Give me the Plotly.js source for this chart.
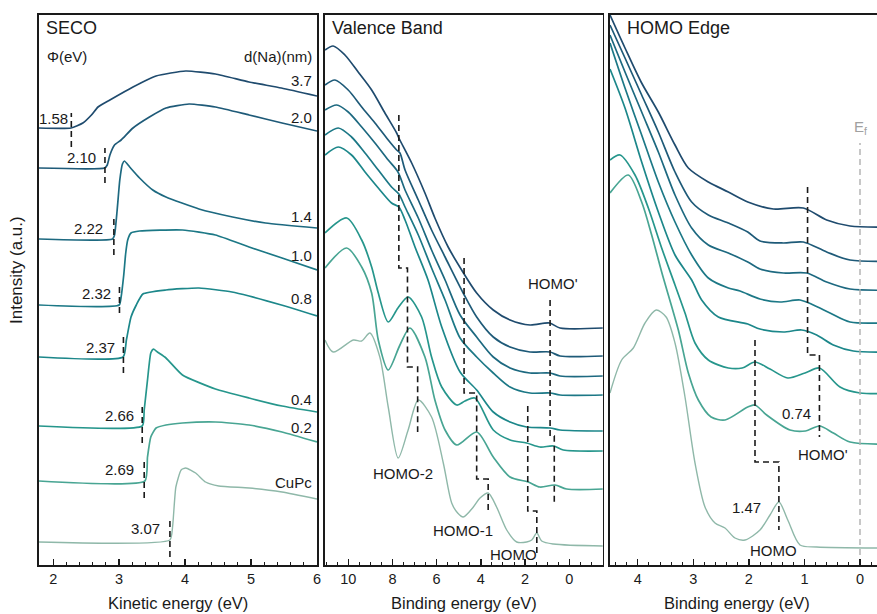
<!DOCTYPE html>
<html><head><meta charset="utf-8">
<script src="https://cdn.plot.ly/plotly-3.0.1.min.js"></script>
<style>html,body{margin:0;padding:0;overflow:hidden;background:#fff}#chart{width:900px;height:614px}</style>
</head><body><div id="chart"></div>
<script>
// ---------- series labels ----------
const thickness = ['3.7','2.0','1.4','1.0','0.8','0.4','0.2','CuPc'];
const colors = ['#1f4b6e','#1e5a78','#1d6980','#1c7886','#1c878a','#26968c','#48a593','#8fb8a9'];

// ---------- SECO panel (kinetic energy, intensity a.u.) ----------
const secoKE = [
 [1.785,2.27,2.45,2.58,2.68,2.86,3.21,3.56,4.01,4.46,4.97,5.46,6.0],
 [1.785,2.78,2.82,2.86,2.93,3.03,3.21,3.46,3.71,4.06,4.46,4.97,5.47,6.0],
 [1.785,2.90,2.93,2.97,3.01,3.05,3.08,3.16,3.31,3.51,3.71,4.21,4.72,5.22,6.0],
 [1.785,3.0,3.03,3.07,3.10,3.13,3.18,3.31,3.96,4.46,4.97,5.47,6.0],
 [1.785,3.06,3.11,3.18,3.26,3.36,3.71,4.21,4.71,4.97,5.46,6.0],
 [1.785,3.35,3.38,3.43,3.48,3.52,3.58,3.71,3.96,4.46,4.97,5.47,6.0],
 [1.785,3.39,3.43,3.48,3.56,3.71,3.96,4.46,4.97,5.47,6.0],
 [1.785,3.77,3.81,3.86,3.94,4.01,4.16,4.31,4.51,4.97,5.47,6.0]
];
const secoInt = [
 [437,437,442,450,458,465,478,489,494,491,483,477,469],
 [397,397,400,410,420,425,437,448,457,461,458,450,442,434],
 [326,326,330,355,385,401,404,398,387,375,368,356,348,342,337],
 [260,260,268,290,312,325,332,334,335,330,318,307,295],
 [208,208,225,248,260,271,275,277,273,269,260,249],
 [139,139,155,185,212,216,213,207,190,176,167,159,153],
 [84,84,108,128,137,140,142,143,140,133,123],
 [23,25,38,78,95,97,92,83,79,77,73,66]
];
const wfLabels = ['1.58','2.10','2.22','2.32','2.37','2.66','2.69','3.07'];
const wfMarkKE = [2.275,2.785,2.92,3.005,3.065,3.35,3.38,3.77];
const wfMarkLo = [418,382,310,252,192,122,67,8];
const wfMarkHi = [452,417,347,280,228,160,105,47];
const wfLabelKE = [2.25,2.68,2.78,2.90,2.96,3.25,3.26,3.65];
const wfLabelInt = [447,408,337,272,218,150,96,37];
const thickLabelInt = [485,448,349,310,267,166,138,83];

// ---------- Valence band panel (binding energy, intensity a.u.) ----------
const vbBE = [
 [11.05,10.68,10.15,9.55,8.94,8.34,7.81,7.71,7.13,6.53,6.08,5.48,4.87,4.19,3.44,2.68,1.78,0.90,0.42,-1.54],
 [11.05,10.6,10.0,9.39,8.79,8.19,7.81,7.66,7.43,6.83,6.23,5.62,4.80,4.19,3.44,2.68,1.78,0.87,0.42,-1.54],
 [11.05,10.52,10.0,9.39,8.79,8.19,7.75,7.43,6.83,6.23,5.62,4.94,4.19,3.44,2.68,1.78,0.87,0.42,-1.54],
 [11.05,10.45,9.85,9.24,8.64,8.04,7.71,7.43,6.83,6.23,5.62,4.94,4.19,3.44,2.68,1.78,0.87,0.42,-1.54],
 [11.05,10.45,9.85,9.24,8.64,8.04,7.71,7.43,6.98,6.39,5.77,4.94,4.19,3.44,2.68,1.93,0.87,0.42,-1.54],
 [11.05,10.07,9.39,8.94,8.64,8.19,7.75,7.29,6.68,6.23,5.77,5.09,4.72,4.27,3.44,2.68,1.93,1.33,0.72,0.27,-1.54],
 [11.05,10.07,9.39,8.94,8.64,8.19,7.66,7.21,6.53,6.08,5.62,5.09,4.19,3.44,2.68,1.86,1.33,0.65,0.12,-1.54],
 [11.05,10.68,9.77,9.39,9.02,8.57,8.19,7.74,7.29,6.83,6.23,5.70,5.32,5.05,4.80,4.34,4.04,3.67,3.29,2.83,2.38,1.93,1.70,1.47,1.25,0.72,-1.54]
];
const vbInt = [
 [515,519,510,493,475,452,432,427,402,372,347,318,295,272,255,245,240,242,237,237],
 [480,485,475,458,442,425,415,412,395,365,335,308,272,248,228,218,213,213,209,209],
 [455,460,453,438,422,405,393,375,347,315,285,250,228,208,197,192,192,189,189],
 [430,437,428,412,395,378,371,358,330,297,265,227,208,192,178,172,172,170,170],
 [410,418,410,393,377,362,358,345,318,285,238,193,175,153,143,138,137,135,134],
 [332,347,325,298,272,243,257,268,248,208,178,160,164,167,135,125,122,118,119,115,114],
 [297,317,298,272,225,195,220,237,208,165,135,120,133,108,88,83,78,80,76,76],
 [225,213,225,224,232,208,158,107,135,165,148,102,62,52,48,58,67,72,58,35,23,23,25,32,24,21,19]
];
const vbStepHomo2BE = [7.71,7.71,7.32,7.32,6.86,6.86];
const vbStepHomo2Int = [450,297,297,198,198,133];
const vbStepHomo1BE = [4.76,4.76,4.19,4.19,3.67,3.67];
const vbStepHomo1Int = [307,172,172,86,86,52];
const vbStepHomoBE = [1.88,1.88,1.47,1.47];
const vbStepHomoInt = [159,54,54,12];
const vbStepHomoPBE = [0.87,0.87,0.68,0.68];
const vbStepHomoPInt = [265,129,129,63];

// ---------- HOMO edge panel ----------
const heBE = [
 [4.5,4.23,3.94,3.63,3.33,3.09,2.73,2.37,2.02,1.56,1.02,0.60,0.18,-0.8],
 [4.5,4.23,3.93,3.63,3.33,3.03,2.73,2.37,2.02,1.80,1.38,1.02,0.60,0.18,-0.8],
 [4.5,4.23,3.93,3.63,3.33,3.03,2.73,2.37,2.02,1.80,1.38,0.96,0.60,0.18,-0.8],
 [4.5,4.23,3.93,3.63,3.33,3.03,2.73,2.37,2.16,1.80,1.44,1.08,0.84,0.54,0.18,-0.8],
 [4.5,4.23,3.93,3.63,3.33,3.03,2.85,2.55,2.02,1.80,1.38,1.05,0.78,0.48,0.12,-0.8],
 [4.5,4.32,4.05,3.81,3.57,3.33,3.15,2.97,2.73,2.37,2.12,1.89,1.62,1.30,0.99,0.73,0.36,0.0,-0.8],
 [4.5,4.17,3.93,3.75,3.57,3.27,3.09,2.91,2.68,2.43,2.02,1.89,1.68,1.26,0.98,0.73,0.48,0.18,-0.8],
 [4.5,4.29,4.08,3.87,3.67,3.49,3.33,3.15,2.97,2.79,2.61,2.43,2.25,2.07,1.80,1.62,1.46,1.30,1.08,0.78,-0.8]
];
const heInt = [
 [550,517,483,453,420,397,383,373,363,356,357,345,339,338],
 [540,507,470,433,393,363,350,342,333,324,322,323,313,305,304],
 [530,493,453,413,370,337,320,312,303,296,292,292,283,276,275],
 [522,477,430,383,343,310,287,277,274,266,263,265,260,252,243,243],
 [496,457,403,353,310,285,265,248,241,236,233,235,230,220,214,213],
 [405,410,390,357,317,280,252,222,205,197,197,203,196,187,192,197,178,172,172],
 [372,390,363,330,293,235,192,165,148,145,158,160,150,135,134,139,132,123,121],
 [172,205,217,242,255,248,222,168,102,58,42,37,27,25,35,50,63,45,20,18,17]
];
const heStepHomoPBE = [0.944,0.944,0.73,0.73];
const heStepHomoPInt = [378,210,210,128];
const heStepHomoBE = [1.89,1.89,1.46,1.46];
const heStepHomoInt = [225,103,103,35];
const fermiBE = [0,0];
const fermiInt = [0,422];

// ---------- build ----------
const W = 900, H = 614;
const FONT = 'Liberation Sans, Arial, Helvetica, sans-serif';
const INK = '#1a1a1a';
const traces = [];
function curves(X, Y, xa, ya, sm) {
  for (let i = 0; i < X.length; i++) {
    traces.push({x: X[i], y: Y[i], xaxis: xa, yaxis: ya, type: 'scatter', mode: 'lines',
      line: {color: colors[i], width: i === 7 ? 1.4 : 1.7, shape: 'spline', smoothing: sm},
      hoverinfo: 'skip', showlegend: false});
  }
}
function dashed(x, y, xa, ya, col, w) {
  traces.push({x: x, y: y, xaxis: xa, yaxis: ya, type: 'scatter', mode: 'lines',
    line: {color: col || INK, width: w || 1.6, dash: '6px,4px'}, hoverinfo: 'skip', showlegend: false});
}
curves(secoKE, secoInt, 'x', 'y', 0.5);
curves(vbBE, vbInt, 'x2', 'y2', 0.8);
curves(heBE, heInt, 'x3', 'y3', 0.8);

const mx = [], my = [];
wfMarkKE.forEach((k, i) => { mx.push(k, k, null); my.push(wfMarkLo[i], wfMarkHi[i], null); });
dashed(mx, my, 'x', 'y');
dashed(vbStepHomo2BE, vbStepHomo2Int, 'x2', 'y2');
dashed(vbStepHomo1BE, vbStepHomo1Int, 'x2', 'y2');
dashed(vbStepHomoBE, vbStepHomoInt, 'x2', 'y2');
dashed(vbStepHomoPBE, vbStepHomoPInt, 'x2', 'y2');
dashed(heStepHomoPBE, heStepHomoPInt, 'x3', 'y3');
dashed(heStepHomoBE, heStepHomoInt, 'x3', 'y3');
dashed(fermiBE, fermiInt, 'x3', 'y3', '#b0b0b0', 1.4);

const annotations = [];
function ann(text, x, y, xref, yref, o) {
  annotations.push(Object.assign({text: text, x: x, y: y, xref: xref, yref: yref, showarrow: false,
    font: {family: FONT, size: 15, color: INK}, xanchor: 'center', yanchor: 'middle'}, o || {}));
}
// panel titles
ann('SECO', 1.86, 537, 'x', 'y', {xanchor: 'left', font: {family: FONT, size: 18, color: INK}});
ann('Valence Band', 10.83, 537, 'x2', 'y2', {xanchor: 'left', font: {family: FONT, size: 18, color: INK}});
ann('HOMO Edge', 4.23, 537, 'x3', 'y3', {xanchor: 'left', font: {family: FONT, size: 18, color: INK}});
// SECO labels
ann('\u03A6(eV)', 1.87, 509, 'x', 'y', {xanchor: 'left'});
ann('d(Na)(nm)', 5.96, 509, 'x', 'y', {xanchor: 'right'});
thickness.forEach((t, i) => ann(t, 5.96, thickLabelInt[i], 'x', 'y', {xanchor: 'right'}));
wfLabels.forEach((t, i) => ann(t, wfLabelKE[i], wfLabelInt[i], 'x', 'y', {xanchor: 'right'}));
// VB labels
ann('HOMO-2', 7.51, 92, 'x2', 'y2');
ann('HOMO-1', 4.8, 35, 'x2', 'y2');
ann('HOMO', 2.53, 11, 'x2', 'y2');
ann("HOMO'", 0.72, 282, 'x2', 'y2');
// HOMO edge labels
ann('0.74', 1.15, 152, 'x3', 'y3');
ann("HOMO'", 0.66, 111, 'x3', 'y3');
ann('1.47', 2.04, 58, 'x3', 'y3');
ann('HOMO', 1.55, 15, 'x3', 'y3');
ann('E<sub>f</sub>', 0, 438, 'x3', 'y3', {font: {family: FONT, size: 15, color: '#a0a0a0'}});
// axis titles
const axisTitleFont = {family: FONT, size: 16.5, color: INK};
ann('Kinetic energy (eV)', 178 / W, 1 - 603 / H, 'paper', 'paper', {font: axisTitleFont});
ann('Binding energy (eV)', 464 / W, 1 - 603 / H, 'paper', 'paper', {font: axisTitleFont});
ann('Binding energy (eV)', 737 / W, 1 - 603 / H, 'paper', 'paper', {font: axisTitleFont});
ann('Intensity (a.u.)', 16 / W, 1 - 270 / H, 'paper', 'paper', {textangle: -90, font: {family: FONT, size: 17, color: INK}});

function xax(dom, range, dtick, mdtick, anchor) {
  return {domain: dom, range: range, anchor: anchor, showline: true, mirror: true, linecolor: INK, linewidth: 1.6,
    ticks: 'inside', ticklen: 6, tickwidth: 1.3, tickcolor: INK, dtick: dtick, tick0: 0,
    minor: {ticks: 'inside', ticklen: 3, tickwidth: 1, tickcolor: INK, dtick: mdtick, tick0: 0},
    showgrid: false, zeroline: false, tickfont: {family: FONT, size: 14.5, color: INK}, fixedrange: true};
}
function yax(anchor) {
  return {domain: [1 - 565 / H, 1 - 15 / H], range: [0, 550], anchor: anchor, showline: true, mirror: true,
    linecolor: INK, linewidth: 1.6, ticks: '', showticklabels: false, showgrid: false, zeroline: false, fixedrange: true};
}
const layout = {
  width: W, height: H, margin: {l: 0, r: 0, t: 0, b: 0}, paper_bgcolor: '#fff', plot_bgcolor: '#fff',
  showlegend: false, hovermode: false, font: {family: FONT, color: INK},
  xaxis: xax([39 / W, 317 / W], [1.785, 6.0], 1, 0.2, 'y'),
  xaxis2: xax([325 / W, 602.7 / W], [11.05, -1.51], 2, 0.5, 'y2'),
  xaxis3: xax([610 / W, 1], [4.5, -0.72], 1, 0.2, 'y3'),
  yaxis: yax('x'), yaxis2: yax('x2'), yaxis3: yax('x3'),
  annotations: annotations
};
Plotly.newPlot('chart', traces, layout, {staticPlot: true, displayModeBar: false});
</script></body></html>
